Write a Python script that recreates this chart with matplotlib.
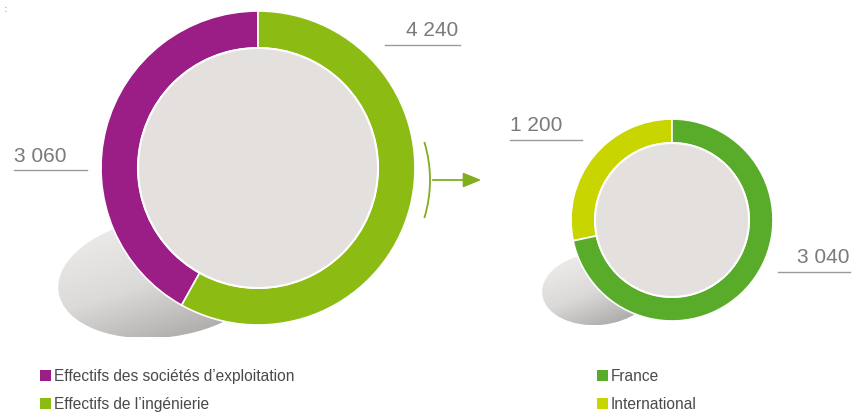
import numpy as np
import matplotlib
matplotlib.use("Agg")
import matplotlib.pyplot as plt
from matplotlib.patches import Ellipse, Circle, Arc
from matplotlib.colors import LinearSegmentedColormap

# data
big_labels = ["Effectifs des sociétés d’exploitation", "Effectifs de l’ingénierie"]
big_values = [3060, 4240]
big_colors = ["#9a1e86", "#8cbc14"]

small_labels = ["France", "International"]
small_values = [3040, 1200]
small_colors = ["#58ac29", "#c9d500"]

H = 414
shade = LinearSegmentedColormap.from_list("shade", ["#efedeb", "#dcdad8", "#a8a6a4"])


def fy(y):
    # pixel row -> data y (y up)
    return H - y


def shadow(ax, cx, cy, w, h, angle):
    ell = Ellipse((cx, fy(cy)), w, h, angle=angle, facecolor="none", edgecolor="none")
    ax.add_patch(ell)
    xs = np.linspace(0, 1, 200)
    ys = np.linspace(0, 1, 120)
    X, Y = np.meshgrid(xs, ys)
    g = np.clip(0.45 * X + 0.75 * Y - 0.1, 0, 1)
    img = ax.imshow(g, cmap=shade, vmin=0, vmax=1, origin="upper",
                    extent=(cx - w / 2, cx + w / 2, fy(cy + h / 2), fy(cy - h / 2)),
                    zorder=1, interpolation="bilinear")
    img.set_clip_path(ell)


def donut(ax, values, colors, cx, cy, r, w, counter_first):
    vals = values if counter_first else values[::-1]
    cols = colors if counter_first else colors[::-1]
    ax.pie(vals, colors=cols, center=(cx, fy(cy)), radius=r, startangle=90, counterclock=True,
           wedgeprops=dict(width=w, edgecolor="white", linewidth=1.2), frame=True)
    ax.add_patch(Circle((cx, fy(cy)), r - w, facecolor="#e3e0dd", edgecolor="white", lw=1.5, zorder=5))


fig = plt.figure(figsize=(8.53, 4.14), dpi=100)
ax = fig.add_axes([0, 0, 1, 1])

shadow(ax, 165, 278, 215, 120, 8)
shadow(ax, 598, 290, 112, 72, 5)

donut(ax, big_values, big_colors, 258, 169, 157, 37, True)
donut(ax, small_values, small_colors, 672, 221, 101, 24, False)

for p in ax.patches:
    p.set_zorder(max(p.get_zorder(), 3))

# value labels with underline
lab_col = "#7a7a7a"
fnt = ["Liberation Sans Narrow", "Liberation Sans", "DejaVu Sans"]
labels = [
    (f"{big_values[1]:,}".replace(",", " "), 458, 36, 385, 460, 46),
    (f"{big_values[0]:,}".replace(",", " "), 14, 162, 14, 87, 171),
    (f"{small_values[1]:,}".replace(",", " "), 510, 131, 510, 582, 141),
    (f"{small_values[0]:,}".replace(",", " "), 850, 263, 778, 850, 273),
]
for txt, tx, ty, x0, x1, ly in labels:
    ha = "right" if tx > x0 + 40 else "left"
    ax.text(tx, fy(ty), txt, ha=ha, va="baseline", fontsize=15, color=lab_col, family=fnt)
    ax.plot([x0, x1], [fy(ly), fy(ly)], color="#9a9a9a", lw=1)

# arrow between the two charts
ax.add_patch(Arc((300, fy(181)), 260, 260, theta1=-17, theta2=17, color="#7fae1f", lw=1.3))
ax.annotate("", xy=(484, fy(181)), xytext=(430, fy(181)),
            arrowprops=dict(arrowstyle="-|>,head_length=1.1,head_width=0.45", color="#7fae1f", lw=1.3))

ax.text(4, fy(4), ":", fontsize=8, color="#888888", va="top")

# legend
leg = [
    (big_labels[0], big_colors[0], 40, 377),
    (big_labels[1], big_colors[1], 40, 405),
    (small_labels[0], small_colors[0], 597, 377),
    (small_labels[1], small_colors[1], 597, 405),
]
for txt, c, x, y in leg:
    ax.add_patch(plt.Rectangle((x, fy(y) - 5), 11, 11, facecolor=c, edgecolor="none"))
    ax.text(x + 14, fy(y), txt, fontsize=11.2, color="#4a4a4a", va="center", family=fnt)

ax.set_xlim(0, 853)
ax.set_ylim(0, H)
ax.set_aspect("auto")
ax.axis("off")
fig.savefig("out.png", dpi=100, facecolor="white")
